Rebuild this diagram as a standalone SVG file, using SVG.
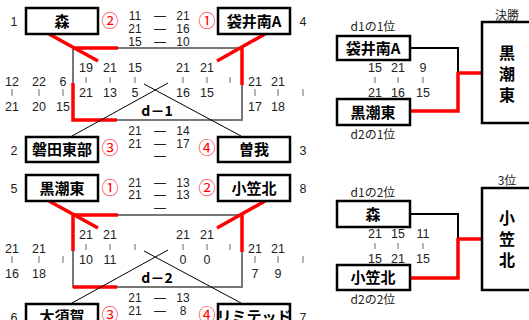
<svg xmlns="http://www.w3.org/2000/svg" width="529" height="320" viewBox="0 0 529 320">
<style>
.box{fill:#fff;stroke:#000;stroke-width:2.5}
.nm{font-family:"Noto Sans CJK JP",sans-serif;font-weight:bold;font-size:15px;text-anchor:middle;fill:#000}
.vt{font-family:"Noto Sans CJK JP",sans-serif;font-weight:bold;font-size:16px;text-anchor:middle;fill:#000}
.s{font-family:"Liberation Sans",Arial,sans-serif;font-size:12.5px;text-anchor:middle;fill:#222}
.h{font-family:"Liberation Sans",Arial,sans-serif;font-size:12px;text-anchor:middle;fill:#222}
.lb{font-family:"Noto Sans CJK JP",sans-serif;font-size:12px;text-anchor:middle;fill:#222}
.c{font-family:"Noto Sans CJK JP",sans-serif;font-size:17px;text-anchor:middle;fill:#f00}
.d{font-family:"Noto Sans CJK JP",sans-serif;font-weight:bold;font-size:14px;text-anchor:middle;fill:#000}
.g{stroke:#777;stroke-width:2;fill:none}
.r{stroke:#f00;stroke-width:3.5;fill:none}
.k{stroke:#000;stroke-width:1;fill:none}
.k2{stroke:#000;stroke-width:2;fill:none}
.b{stroke:#666;stroke-width:1}
</style>

<g id="connectors">
  <path class="g" d="M73,48 H243 M73,48 V120 H243 M242,48 V120"/>
  <path class="r" d="M73,48 H118 M73,83 V120 H117 M242,48 V85"/>
  <path class="r" d="M49,34 L98,61 M265,34 L217,61"/>
  <path class="k" d="M72,136 L168,83 M144,84 L241,136"/>
  <path class="g" d="M73,215 H243 M73,215 V287 H243 M242,215 V287"/>
  <path class="r" d="M73,215 H118 M73,215 V251 M73,287 H117 M242,215 V252"/>
  <path class="r" d="M49,201 L98,228 M265,201 L217,228"/>
  <path class="k" d="M72,303 L168,250 M144,251 L241,303"/>
  <path class="k2" d="M410,48 H458 V73"/>
  <path class="r" d="M458,73 H482 M458,72 V111 H410"/>
  <path class="k2" d="M410,214 H458 V239"/>
  <path class="r" d="M458,239 H482 M458,238 V278 H410"/>
</g>

<g id="mori1">
  <rect class="box" x="26" y="8" width="72" height="26"/>
  <text class="nm" x="62" y="27">森</text>
  <text class="s" x="14" y="26">1</text>
</g>
<g id="fukuroi1">
  <rect class="box" x="218" y="8" width="72" height="26"/>
  <text class="nm" x="254" y="27">袋井南A</text>
  <text class="s" x="303" y="26">4</text>
</g>
<g id="iwata">
  <rect class="box" x="26" y="137" width="72" height="25"/>
  <text class="nm" x="62" y="155">磐田東部</text>
  <text class="s" x="14" y="155">2</text>
</g>
<g id="soga">
  <rect class="box" x="218" y="137" width="72" height="25"/>
  <text class="nm" x="254" y="155">曽我</text>
  <text class="s" x="303" y="155">3</text>
</g>
<g id="kuroshio1">
  <rect class="box" x="26" y="175" width="72" height="26"/>
  <text class="nm" x="62" y="194">黒潮東</text>
  <text class="s" x="14" y="193">5</text>
</g>
<g id="ogasakita1">
  <rect class="box" x="218" y="175" width="72" height="26"/>
  <text class="nm" x="254" y="194">小笠北</text>
  <text class="s" x="303" y="193">8</text>
</g>
<g id="osuka">
  <rect class="box" x="26" y="304" width="72" height="25"/>
  <text class="nm" x="62" y="322">大須賀</text>
  <text class="s" x="14" y="322">6</text>
</g>
<g id="limited">
  <rect class="box" x="218" y="304" width="72" height="25"/>
  <text class="nm" x="254" y="322">リミテッド</text>
  <text class="s" x="303" y="322">7</text>
</g>

<g id="d1-scores">
  <text class="c" x="110" y="27">②</text>
  <text class="c" x="207" y="27">①</text>
  <text class="c" x="110" y="154">③</text>
  <text class="c" x="207" y="154">④</text>
  <text class="h" x="135" y="20">11</text><text class="h" x="160" y="20">—</text><text class="h" x="183" y="20">21</text>
  <text class="h" x="135" y="33">21</text><text class="h" x="160" y="33">—</text><text class="h" x="183" y="33">16</text>
  <text class="h" x="135" y="46">15</text><text class="h" x="160" y="46">—</text><text class="h" x="183" y="46">10</text>
  <text class="h" x="135" y="135">21</text><text class="h" x="160" y="135">—</text><text class="h" x="183" y="135">14</text>
  <text class="h" x="135" y="148">21</text><text class="h" x="160" y="148">—</text><text class="h" x="183" y="148">17</text>
  <text class="h" x="160" y="160">—</text>
  <text class="d" x="157" y="116">d－1</text>
  <text class="s" x="86" y="72">19</text><text class="s" x="110" y="72">21</text><text class="s" x="135" y="72">15</text>
  <text class="s" x="183" y="72">21</text><text class="s" x="207" y="72">21</text>
  <text class="s" x="86" y="97">21</text><text class="s" x="110" y="97">13</text><text class="s" x="135" y="97">5</text>
  <text class="s" x="183" y="97">16</text><text class="s" x="207" y="97">15</text>
  <path class="b" d="M86,77 V83 M110,77 V83 M135,77 V83 M183,77 V83 M207,77 V83 M230,77 V83"/>
  <text class="s" x="12" y="86">12</text><text class="s" x="39" y="86">22</text><text class="s" x="63" y="86">6</text>
  <text class="s" x="12" y="111">21</text><text class="s" x="39" y="111">20</text><text class="s" x="63" y="111">15</text>
  <path class="b" d="M12,89 V96 M39,89 V96 M63,89 V96"/>
  <text class="s" x="255" y="86">21</text><text class="s" x="278" y="86">21</text>
  <text class="s" x="255" y="111">17</text><text class="s" x="278" y="111">18</text>
  <path class="b" d="M255,89 V96 M278,89 V96 M303,89 V96"/>
</g>

<g id="d2-scores">
  <text class="c" x="110" y="194">①</text>
  <text class="c" x="207" y="194">②</text>
  <text class="c" x="110" y="321">③</text>
  <text class="c" x="207" y="321">④</text>
  <text class="h" x="135" y="187">21</text><text class="h" x="160" y="187">—</text><text class="h" x="183" y="187">13</text>
  <text class="h" x="135" y="199">21</text><text class="h" x="160" y="199">—</text><text class="h" x="183" y="199">13</text>
  <text class="h" x="160" y="212">—</text>
  <text class="h" x="135" y="302">21</text><text class="h" x="160" y="302">—</text><text class="h" x="183" y="302">13</text>
  <text class="h" x="135" y="315">21</text><text class="h" x="160" y="315">—</text><text class="h" x="183" y="315">8</text>
  <text class="d" x="157" y="283">d－2</text>
  <text class="s" x="86" y="239">21</text><text class="s" x="110" y="239">21</text>
  <text class="s" x="183" y="239">21</text><text class="s" x="207" y="239">21</text>
  <text class="s" x="86" y="264">10</text><text class="s" x="110" y="264">11</text>
  <text class="s" x="183" y="264">0</text><text class="s" x="207" y="264">0</text>
  <path class="b" d="M86,244 V250 M110,244 V250 M135,244 V250 M183,244 V250 M207,244 V250 M230,244 V250"/>
  <text class="s" x="12" y="253">21</text><text class="s" x="39" y="253">21</text>
  <text class="s" x="12" y="278">16</text><text class="s" x="39" y="278">18</text>
  <path class="b" d="M12,256 V263 M39,256 V263 M63,256 V263"/>
  <text class="s" x="255" y="253">21</text><text class="s" x="278" y="253">21</text>
  <text class="s" x="255" y="278">7</text><text class="s" x="278" y="278">9</text>
  <path class="b" d="M255,256 V263 M278,256 V263 M303,256 V263"/>
</g>

<g id="final-fukuroi">
  <text class="lb" x="373" y="31">d1の1位</text>
  <rect class="box" x="337" y="36" width="73" height="24"/>
  <text class="nm" x="373" y="54">袋井南A</text>
</g>
<g id="final-kuroshio">
  <rect class="box" x="337" y="99" width="73" height="26"/>
  <text class="nm" x="373" y="118">黒潮東</text>
  <text class="lb" x="373" y="139">d2の1位</text>
</g>
<g id="final-scores">
  <text class="s" x="375" y="72">15</text><text class="s" x="398" y="72">21</text><text class="s" x="423" y="72">9</text>
  <text class="s" x="375" y="97">21</text><text class="s" x="398" y="97">16</text><text class="s" x="423" y="97">15</text>
  <path class="b" d="M375,77 V83 M398,77 V83 M423,77 V83"/>
</g>
<g id="champion">
  <text class="lb" x="507" y="20">決勝</text>
  <rect class="box" x="482" y="22" width="60" height="101"/>
  <text class="vt" x="507" y="59">黒</text>
  <text class="vt" x="507" y="80">潮</text>
  <text class="vt" x="507" y="101">東</text>
</g>

<g id="third-mori">
  <text class="lb" x="373" y="197">d1の2位</text>
  <rect class="box" x="337" y="201" width="73" height="26"/>
  <text class="nm" x="373" y="220">森</text>
</g>
<g id="third-ogasakita">
  <rect class="box" x="337" y="265" width="73" height="25"/>
  <text class="nm" x="373" y="283">小笠北</text>
  <text class="lb" x="373" y="304">d2の2位</text>
</g>
<g id="third-scores">
  <text class="s" x="375" y="238">21</text><text class="s" x="398" y="238">15</text><text class="s" x="423" y="238">11</text>
  <text class="s" x="375" y="263">15</text><text class="s" x="398" y="263">21</text><text class="s" x="423" y="263">15</text>
  <path class="b" d="M375,243 V249 M398,243 V249 M423,243 V249"/>
</g>
<g id="third">
  <text class="lb" x="507" y="185">3位</text>
  <rect class="box" x="482" y="188" width="60" height="102"/>
  <text class="vt" x="507" y="224">小</text>
  <text class="vt" x="507" y="245">笠</text>
  <text class="vt" x="507" y="266">北</text>
</g>
</svg>
